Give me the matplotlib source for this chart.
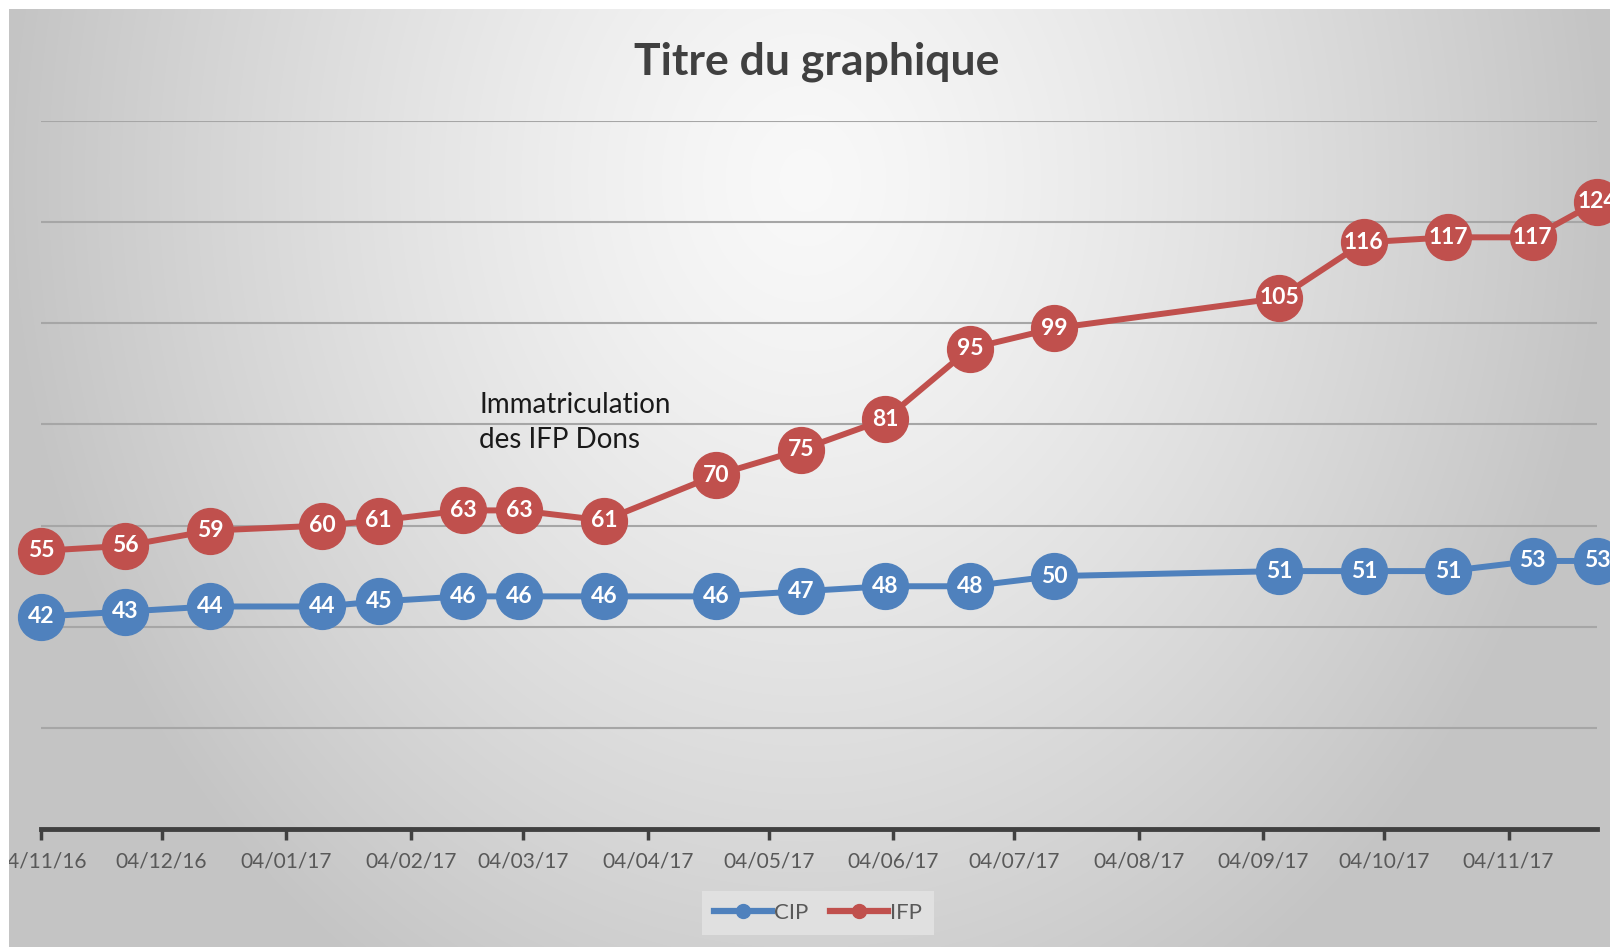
import numpy as np
import matplotlib
matplotlib.use("Agg")
import matplotlib.pyplot as plt
import matplotlib.dates as mdates
from matplotlib.lines import Line2D
from matplotlib.patches import Rectangle

plt.rcParams['font.family'] = ['Lato', 'DejaVu Sans']

# données
dates = ["2016-11-04", "2016-11-25", "2016-12-16", "2017-01-13", "2017-01-27",
         "2017-02-17", "2017-03-03", "2017-03-24", "2017-04-21", "2017-05-12",
         "2017-06-02", "2017-06-23", "2017-07-14", "2017-09-08", "2017-09-29",
         "2017-10-20", "2017-11-10", "2017-11-26"]
cip = [42, 43, 44, 44, 45, 46, 46, 46, 46, 47, 48, 48, 50, 51, 51, 51, 53, 53]
ifp = [55, 56, 59, 60, 61, 63, 63, 61, 70, 75, 81, 95, 99, 105, 116, 117, 117, 124]

titre = "Titre du graphique"
annotation = "Immatriculation\ndes IFP Dons"

BLEU = "#4F81BD"
ROUGE = "#C0504D"

x = np.array(dates, dtype="datetime64[D]").astype("O")

W, H = 1610, 947
fig = plt.figure(figsize=(W / 100, H / 100), dpi=100)

# fond dégradé façon Excel
bg = fig.add_axes([0, 0, 1, 1], zorder=-10)
bg.set_axis_off()
yy, xx = np.mgrid[0:H, 0:W]
r = np.sqrt(((xx - 805) / 800.0) ** 2 + ((yy - 180) / 950.0) ** 2)
val = 0.975 - 0.205 * np.clip(r, 0, 1) ** 1.3
img = np.dstack([val, val, val])
bg.imshow(img, extent=[0, W, H, 0], aspect="auto", interpolation="bilinear")
bg.set_xlim(0, W)
bg.set_ylim(H, 0)

ax = fig.add_axes([41 / W, 1 - 829 / H, (1597 - 41) / W, (829 - 121) / H])
ax.patch.set_alpha(0)

for serie, couleur in ((cip, BLEU), (ifp, ROUGE)):
    ax.plot(x, serie, color=couleur, lw=4.3, marker="o", markersize=33,
            markeredgecolor=couleur, solid_capstyle="round", zorder=3, clip_on=False)
    for d, v in zip(x, serie):
        ax.text(d, v, str(v), color="white", fontsize=16.5, fontweight="bold",
                ha="center", va="center", zorder=4, clip_on=False)

ax.set_ylim(0, 140)
ax.set_yticks(np.arange(20, 141, 20))
ax.yaxis.grid(True, color="#a6a6a6", lw=1.5)
ax.tick_params(axis="y", left=False, labelleft=False)
ax.set_xlim(x[0], x[-1])
ax.xaxis.set_major_locator(mdates.MonthLocator(bymonthday=4))
ax.xaxis.set_major_formatter(mdates.DateFormatter("%d/%m/%y"))
ax.tick_params(axis="x", direction="out", length=8, width=2.5, color="#404040",
               labelsize=15, labelcolor="#595959", pad=8)
for s in ("top", "left", "right"):
    ax.spines[s].set_visible(False)
ax.spines["bottom"].set_color("#404040")
ax.spines["bottom"].set_linewidth(3.5)
ax.set_axisbelow(True)

ax.text(np.datetime64("2017-02-21").astype("O"), 86.5, annotation, fontsize=20,
        color="#1a1a1a", ha="left", va="top", linespacing=1.45)

fig.text(817 / W, 1 - 62 / H, titre, fontsize=32, fontweight="bold",
         color="#404040", ha="center", va="center")

handles = [Line2D([], [], color=BLEU, lw=4.5, marker="o", markersize=10),
           Line2D([], [], color=ROUGE, lw=4.5, marker="o", markersize=10)]
leg = fig.legend(handles, ["CIP", "IFP"], loc="center", bbox_to_anchor=(818 / W, 1 - 913 / H),
                 ncol=2, fontsize=16, frameon=True, fancybox=False, handlelength=2.6,
                 handletextpad=0.1, columnspacing=1.0, borderpad=0.55)
leg.get_frame().set_facecolor("#e0e0e0")
leg.get_frame().set_edgecolor("none")
leg.get_frame().set_alpha(1)
for t in leg.get_texts():
    t.set_color("#595959")

# bande blanche en haut et à gauche (capture recadrée)
fig.patches.append(Rectangle((0, 0), 9 / W, 1, transform=fig.transFigure,
                             facecolor="white", edgecolor="none", zorder=20))
fig.patches.append(Rectangle((0, 1 - 9 / H), 1, 9 / H, transform=fig.transFigure,
                             facecolor="white", edgecolor="none", zorder=20))

fig.savefig("out.png", dpi=100)
